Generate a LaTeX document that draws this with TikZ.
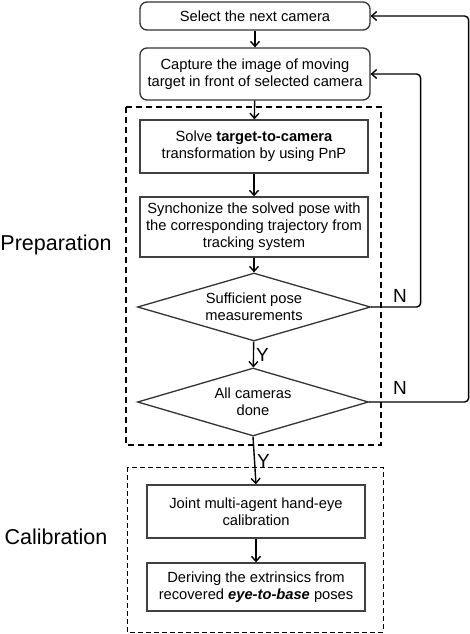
\documentclass[tikz,border=0pt]{standalone}
\usepackage{fontspec}
\setmainfont{Liberation Sans}
\usepackage{xcolor}
\usetikzlibrary{arrows.meta,shapes.geometric}

\begin{document}
\begin{tikzpicture}[x=1pt, y=-1pt,
  rbox/.style={draw=black!80, line width=1.3pt, rounded corners=7pt, minimum width=230pt,
              align=center, font=\fontsize{14.7}{17}\selectfont},
  box/.style={draw=black!75, line width=1.4pt, minimum width=228pt, align=center,
              font=\fontsize{14.7}{17}\selectfont},
  dec/.style={diamond, draw=black!80, line width=1.3pt, aspect=3.4, inner sep=0pt,
              minimum width=233pt, minimum height=68pt, align=center,
              font=\fontsize{14.7}{17}\selectfont},
  arr/.style={-{Straight Barb[length=5pt,width=9pt]}, line width=1.4pt, draw=black},
  lbl/.style={font=\fontsize{21.5}{24}\selectfont},
  yn/.style={font=\fontsize{19}{21}\selectfont}
]
  \useasboundingbox (0,0) rectangle (470,634);

  % Groups
  \draw[line width=1.5pt, dash pattern=on 6pt off 4pt] (126,107) rectangle (381,445);
  \draw[line width=0.9pt, dash pattern=on 5pt off 3pt] (127,467) rectangle (383,632);
  \node[lbl] (prep) at (56,245) {Preparation};
  \node[lbl] (calib) at (56,537) {Calibration};

  % Nodes
  \node[rbox, minimum height=28pt] (sel) at (255,16) {Select the next camera};
  \node[rbox, minimum height=52pt] (cap) at (255,74) {Capture the image of moving\\target in front of selected camera};
  \node[box, minimum height=53pt] (solve) at (254,146.5) {Solve \textbf{target-to-camera}\\transformation by using PnP};
  \node[box, minimum height=60pt] (sync) at (254,227) {Synchonize the solved pose with\\the corresponding trajectory from\\tracking system};
  \node[dec] (suf) at (254,307) {Sufficient pose\\measurements};
  \node[dec, minimum width=231pt] (done) at (253,402) {All cameras\\done};
  \node[box, minimum width=218pt, minimum height=53pt] (joint) at (256,511.5) {Joint multi-agent hand-eye\\calibration};
  \node[box, minimum width=218pt, minimum height=48pt] (deriv) at (256,587) {Deriving the extrinsics from\\recovered \textbf{\textit{eye-to-base}} poses};

  % Paths
  \draw[arr] (sel) -- (cap);
  \draw[arr] (cap) -- (solve);
  \draw[arr] (solve) -- (sync);
  \draw[arr] (sync) -- (suf);
  \draw[arr] (suf) -- node[yn, right, inner sep=2pt] {Y} (done);
  \draw[arr] (done.south) -- node[yn, right, inner sep=2pt] {Y} (joint.north);
  \draw[arr] (joint) -- (deriv);
  \draw[arr, rounded corners=4pt] (suf.east) -| ([xshift=50pt]cap.east) -- (cap.east);
  \draw[arr, rounded corners=4pt] (done.east) -| ([xshift=98pt]sel.east) -- (sel.east);
  \node[yn] (n1) at (400,296) {N};
  \node[yn] (n2) at (400,388) {N};
\end{tikzpicture}
\end{document}
